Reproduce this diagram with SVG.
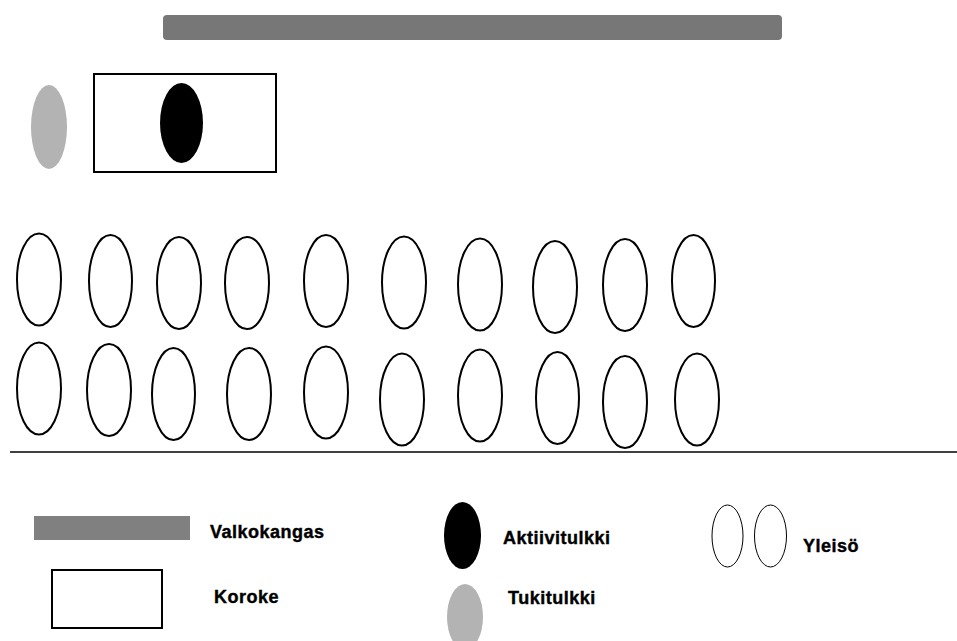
<svg xmlns="http://www.w3.org/2000/svg" width="957" height="641" viewBox="0 0 957 641">
<style>
.aud{fill:#fff;stroke:#000;stroke-width:2}
.lbl{font-family:"Liberation Sans",Arial,sans-serif;font-weight:bold;font-size:18px;letter-spacing:0.5px;fill:#000;stroke:#000;stroke-width:0.4}
</style>
<rect width="957" height="641" fill="#fff"/>
<g id="screen"><rect x="163" y="15" width="619" height="25" rx="4" fill="#777"/></g>
<g id="support-interpreter"><ellipse cx="49" cy="127" rx="18" ry="42" fill="#b3b3b3"/></g>
<g id="stage"><rect x="94" y="74" width="182" height="98" fill="#fff" stroke="#000" stroke-width="2"/></g>
<g id="active-interpreter"><ellipse cx="181.5" cy="123" rx="21.5" ry="40" fill="#000"/></g>
<g id="audience">
<ellipse class="aud" cx="39" cy="279.5" rx="22" ry="46"/>
<ellipse class="aud" cx="110.5" cy="281" rx="21.5" ry="46"/>
<ellipse class="aud" cx="179" cy="283" rx="22" ry="46"/>
<ellipse class="aud" cx="247" cy="283" rx="22" ry="46"/>
<ellipse class="aud" cx="326" cy="281" rx="22" ry="46"/>
<ellipse class="aud" cx="404" cy="282.5" rx="22" ry="46"/>
<ellipse class="aud" cx="480" cy="284.5" rx="22" ry="46"/>
<ellipse class="aud" cx="555" cy="287" rx="22" ry="46"/>
<ellipse class="aud" cx="625" cy="285" rx="22" ry="46"/>
<ellipse class="aud" cx="693.5" cy="281" rx="21.5" ry="46"/>
<ellipse class="aud" cx="39" cy="388.5" rx="22" ry="46"/>
<ellipse class="aud" cx="109" cy="390" rx="22" ry="46"/>
<ellipse class="aud" cx="173.5" cy="394" rx="21.5" ry="46"/>
<ellipse class="aud" cx="249" cy="394" rx="22" ry="46"/>
<ellipse class="aud" cx="326" cy="392.5" rx="22" ry="46"/>
<ellipse class="aud" cx="402" cy="399.5" rx="22" ry="46"/>
<ellipse class="aud" cx="480" cy="395.5" rx="22" ry="46"/>
<ellipse class="aud" cx="557.5" cy="398" rx="21.5" ry="46"/>
<ellipse class="aud" cx="625" cy="402" rx="22" ry="46"/>
<ellipse class="aud" cx="697" cy="399.5" rx="22" ry="46"/>
</g>
<g id="connectors"><line x1="10" y1="452" x2="957" y2="452" stroke="#000" stroke-width="1.5"/></g>
<g id="legend">
<rect x="34" y="516" width="156" height="24" fill="#808080"/>
<text class="lbl" x="210" y="538">Valkokangas</text>
<rect x="52" y="570" width="110" height="58" fill="#fff" stroke="#000" stroke-width="2"/>
<text class="lbl" x="214" y="603">Koroke</text>
<ellipse cx="462.5" cy="535.5" rx="18.5" ry="33.5" fill="#000"/>
<text class="lbl" x="503" y="544">Aktiivitulkki</text>
<ellipse cx="465" cy="617" rx="18" ry="33" fill="#b3b3b3"/>
<text class="lbl" x="508" y="604">Tukitulkki</text>
<ellipse cx="727.5" cy="536" rx="15.5" ry="31" fill="#fff" stroke="#000" stroke-width="1"/>
<ellipse cx="770.5" cy="536" rx="16" ry="31" fill="#fff" stroke="#000" stroke-width="1"/>
<text class="lbl" x="803" y="552">Yleisö</text>
</g>
</svg>
